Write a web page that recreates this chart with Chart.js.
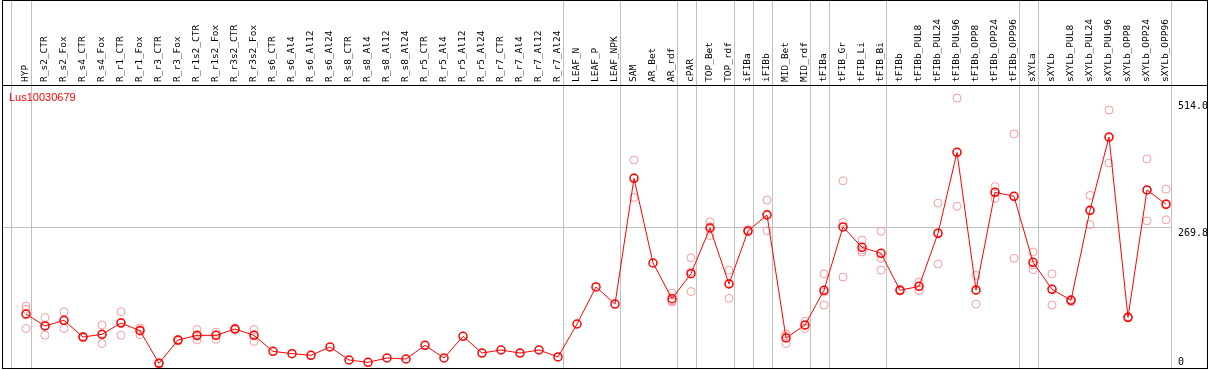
<!DOCTYPE html>
<html>
<head>
<meta charset="utf-8">
<script src="https://cdn.jsdelivr.net/npm/chart.js@4.4.1/dist/chart.umd.min.js"></script>
<style>
  html, body { margin: 0; padding: 0; background: #fff; }
  #wrap { width: 1209px; height: 370px; position: relative; }
</style>
</head>
<body>
<div id="wrap"><canvas id="grafico"></canvas></div>
<script>
// Dados (gene e amostras)
const gene = "Lus10030679";

const amostras = [
  "HYP", "R_s2_CTR", "R_s2_Fox", "R_s4_CTR", "R_s4_Fox", "R_r1_CTR", "R_r1_Fox", "R_r3_CTR", "R_r3_Fox",
  "R_r1s2_CTR", "R_r1s2_Fox", "R_r3s2_CTR", "R_r3s2_Fox", "R_s6_CTR", "R_s6_Al4", "R_s6_Al12", "R_s6_Al24",
  "R_s8_CTR", "R_s8_Al4", "R_s8_Al12", "R_s8_Al24", "R_r5_CTR", "R_r5_Al4", "R_r5_Al12", "R_r5_Al24",
  "R_r7_CTR", "R_r7_Al4", "R_r7_Al12", "R_r7_Al24", "LEAF_N", "LEAF_P", "LEAF_NPK", "SAM", "AR_Bet", "AR_rdf",
  "cPAR", "TOP_Bet", "TOP_rdf", "iFIBa", "iFIBb", "MID_Bet", "MID_rdf", "tFIBa", "tFIB_Gr", "tFIB_Li", "tFIB_Bi",
  "tFIBb", "tFIBb_PUL8", "tFIBb_PUL24", "tFIBb_PUL96", "tFIBb_OPP8", "tFIBb_OPP24", "tFIBb_OPP96",
  "sXYLa", "sXYLb", "sXYLb_PUL8", "sXYLb_PUL24", "sXYLb_PUL96", "sXYLb_OPP8", "sXYLb_OPP24", "sXYLb_OPP96",
];

// média de cada amostra
const media = [
  103.8, 80.8, 91.7, 59.6, 64.7, 86.5, 71.8, 9, 53.8, 62.8, 62.8, 75, 62.8,
  32, 27.6, 24.4, 40.4, 15.4, 10.9, 19.2, 17.3, 43.6, 19.2, 60.9, 28.8, 34.6, 28.8, 34.6, 21.2,
  84.6, 155.8, 123, 364.7, 201.9, 133.3, 181.4, 269.2, 161.5, 263.5, 294.2, 57.7, 82.7,
  149.4, 271.2, 232, 220.5, 149.4, 157, 259, 414.7, 150, 337.8, 330.2,
  203.3, 151.3, 130.2, 303.3, 444.2, 97.5, 342.3, 314.8,
];

// réplicas (null = sem réplica)
const rep1 = [
  119, 97, 108, 61, 83, 108, 77, 10, 55, 74, 69, 77, 74,
  null, null, null, null, null, null, null, null, null, null, null, null, null, null, null, null,
  null, null, null, 400, null, 144, 212, 281, 188, 266, 323, 65, 90,
  181, 360, 246, 263, 151, 165, 317, 519, 178, 349, 450,
  223, 181, 132, 332, 496, 99, 402, 344,
];
const rep2 = [
  113, 63, 76, 58, 47, 63, 64, 8, 52, 54, 55, 73, 51,
  null, null, null, null, null, null, null, null, null, null, null, null, null, null, null, null,
  null, null, null, 328, null, 127, 147, 255, 134, 262, 264, 47, 76,
  121, 280, 223, 211, 148, 149, 200, 311, 123, 326, 211,
  189, 121, 127, 276, 394, 96, 283, 285,
];
const rep3 = [
  76, 82, 91, 60, 64, 88, 74, 9, 54, 61, 64, 75, 64,
  null, null, null, null, null, null, null, null, null, null, null, null, null, null, null, null,
  null, null, null, 366, null, 129, 185, 272, 163, 263, 296, 61, 82,
  146, 175, 227, 188, 149, 157, 260, 415, 149, 338, 330,
  198, 152, 131, 302, 443, 98, 342, 316,
];

// último índice de cada grupo (linhas cinza verticais)
const fimGrupos = [-1, 0, 28, 31, 34, 35, 37, 38, 39, 41, 42, 45, 52, 53, 60];

// rótulos do eixo y
const yTicks = [0, 269.8, 514.0];

const xMin = -23 / 19;
const xMax = 60 + 5 / 19;
const yMax = 544.2;

const separadores = fimGrupos.map((i) => i + 5 / 19);

const pontosRep = [];
[rep1, rep2, rep3].forEach((r) => {
  r.forEach((v, i) => {
    if (v !== null) pontosRep.push({ x: i, y: v });
  });
});

// zera o espaço extra que o Chart.js reserva para os rótulos
function semPadding(s) {
  s.paddingTop = 0;
  s.paddingBottom = 0;
  s.paddingLeft = 0;
  s.paddingRight = 0;
}

// moldura preta e nome do gene
const moldura = {
  id: "moldura",
  afterDraw(chart) {
    const c = chart.ctx;
    c.save();
    c.strokeStyle = "#000";
    c.lineWidth = 1;
    c.strokeRect(2.5, 0.5, 1205, 368);
    c.beginPath();
    c.moveTo(2.5, 85.5);
    c.lineTo(1207.5, 85.5);
    c.stroke();
    c.fillStyle = "#ff0000";
    c.font = '11px "Liberation Sans"';
    c.fillText(gene, 9, 101);
    c.restore();
  },
};

new Chart(document.getElementById("grafico"), {
  type: "line",
  data: {
    datasets: [
      {
        label: gene,
        data: media.map((v, i) => ({ x: i, y: v })),
        borderColor: "#ff0000",
        borderWidth: 1,
        pointRadius: 4,
        pointBorderWidth: 1.5,
        pointBorderColor: "#ff0000",
        pointBackgroundColor: "rgba(0,0,0,0)",
        tension: 0,
        order: 0,
      },
      {
        type: "scatter",
        label: "réplicas",
        data: pontosRep,
        showLine: false,
        pointRadius: 4,
        pointBorderWidth: 1,
        borderColor: "#f29c9c",
        pointBackgroundColor: "rgba(0,0,0,0)",
        order: 1,
      },
    ],
  },
  options: {
    animation: false,
    responsive: true,
    maintainAspectRatio: false,
    layout: { autoPadding: false, padding: { left: 3, right: 0, top: 0, bottom: 2 } },
    plugins: { legend: { display: false }, tooltip: { enabled: false } },
    scales: {
      x: {
        type: "linear",
        position: "top",
        weight: 1,
        min: xMin,
        max: xMax,
        afterBuildTicks: (s) => { s.ticks = amostras.map((_, i) => ({ value: i })); },
        afterFit: (s) => { s.height = 85; semPadding(s); },
        ticks: {
          autoSkip: false,
          minRotation: 90,
          maxRotation: 90,
          padding: 3,
          labelOffset: 11.4, // compensa o deslocamento do texto girado
          color: "#000",
          font: { family: "DejaVu Sans Mono", size: 9.5 },
          callback: (v) => amostras[v] ?? "",
        },
        grid: { display: false, drawTicks: false },
        border: { display: false },
      },
      x2: {
        type: "linear",
        position: "top",
        weight: 0,
        min: xMin,
        max: xMax,
        afterBuildTicks: (s) => { s.ticks = separadores.map((v) => ({ value: v })); },
        afterFit: (s) => { s.height = 0; semPadding(s); },
        ticks: { display: false },
        grid: { color: "#c0c0c0", lineWidth: 1, drawTicks: true, tickLength: 85 },
        border: { display: false },
      },
      y: {
        type: "linear",
        position: "right",
        min: 0,
        max: yMax,
        afterBuildTicks: (s) => { s.ticks = yTicks.map((v) => ({ value: v })); },
        afterFit: (s) => { s.width = 38; semPadding(s); },
        ticks: {
          padding: 7,
          color: "#000",
          font: { family: "DejaVu Sans Mono", size: 10 },
          // "0" fica acima da base, os outros logo abaixo da linha
          callback: (v) => (v === 0 ? ["0", ""] : ["", v.toFixed(1)]),
        },
        grid: {
          drawTicks: false,
          color: (c) => (c.tick && c.tick.value === yTicks[1] ? "#c0c0c0" : "rgba(0,0,0,0)"),
        },
        border: { display: false },
      },
    },
  },
  plugins: [moldura],
});
</script>
</body>
</html>
